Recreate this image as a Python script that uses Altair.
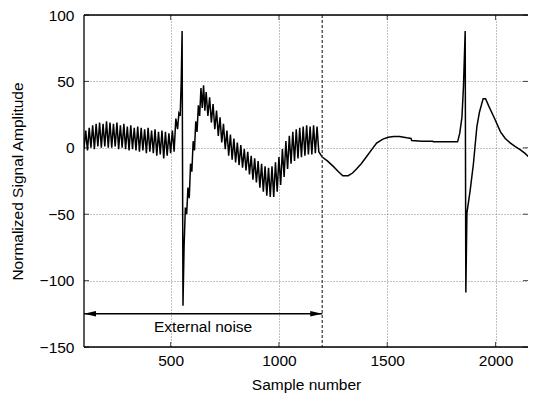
import altair as alt
import pandas as pd

# ---------------- data ----------------
# Segment A (noisy, before first spike): troughs at 100,116,...; peaks at 108,124,...
segA_start, segA_step = 100, 8
segA_troughs = [-1, -2, 0, -1, 1, 0, 1, 0, 0, 1, -1, 0, -1, -2, -1, -2, -3, -2, -4, -3, -4, -6, -5, -8, -6, -4, -3]
segA_peaks = [13, 15, 17, 18, 19, 18, 20, 19, 18, 19, 17, 18, 16, 17, 15, 16, 15, 14, 15, 13, 14, 12, 13, 12, 11, 13, 22]

# Around the first spike
trans_x = [532, 538, 544, 549, 553, 557, 562, 568, 574, 580, 586, 592, 598, 604, 610, 616, 622, 628, 634, 640, 646, 652, 658]
trans_y = [14, 26, 24, 50, 88, -119, -75, -45, -50, -30, -38, -12, -18, 5, -2, 20, 12, 32, 24, 45, 30, 47, 28]

# Segment B (noisy, after spike): peaks at 664,680,...; troughs at 672,688,...
segB_start, segB_step = 664, 8
segB_peaks = [42, 38, 33, 28, 23, 18, 13, 10, 7, 4, 2, -1, -3, -6, -8, -10, -12, -14, -15, -14, -11, -7, -1, 5, 9, 12, 14, 15, 16, 17, 16, 17, 16]
segB_troughs = [24, 19, 14, 9, 4, -1, -6, -9, -11, -13, -15, -17, -20, -24, -26, -30, -33, -36, -37, -37, -33, -28, -22, -16, -12, -10, -8, -7, -6, -5, -5, -4, -3]

# Clean segment after the noise window
clean_x = [1200, 1225, 1251, 1275, 1295, 1320, 1340, 1358, 1380, 1405, 1430, 1451, 1480, 1505, 1530, 1557, 1590, 1610,
           1613, 1660, 1710, 1713, 1770, 1825, 1835, 1845, 1852, 1860, 1863, 1868, 1883, 1898, 1914, 1926, 1943, 1954,
           1970, 1993, 2023, 2045, 2069, 2090, 2115, 2135, 2154, 2175, 2192, 2200]
clean_y = [-7, -10, -14, -18, -21, -21, -19, -16, -12, -6.5, -1, 3.5, 6.5, 8, 8.5, 8.5, 7.5, 7,
           5.5, 5, 5, 4.5, 4.5, 4.5, 11, 23, 46, 88, -109, -49, -32, -12, 16, 27, 37, 37,
           31, 23, 12, 7, 3.5, 1, -1.5, -4, -7, -11, -16, -19]

x_ticks = [500, 1000, 1500, 2000]
y_ticks = [-150, -100, -50, 0, 50, 100]
noise_end = 1200
arrow_start, arrow_end, arrow_y = 100, 1200, -125
label_text = "External noise"
label_x, label_y = 650, -135

# ---------------- assemble ----------------
xs, ys = [], []
for i, (t, p) in enumerate(zip(segA_troughs, segA_peaks)):
    xs += [segA_start + 2 * i * segA_step, segA_start + (2 * i + 1) * segA_step]
    ys += [t, p]
xs += trans_x
ys += trans_y
for i, (p, t) in enumerate(zip(segB_peaks, segB_troughs)):
    xs += [segB_start + 2 * i * segB_step, segB_start + (2 * i + 1) * segB_step]
    ys += [p, t]
xs += clean_x
ys += clean_y
sig = pd.DataFrame({"x": xs, "y": ys})

W, H = 444, 332
FONT = "Liberation Sans"
FS = 15.5
xscale = alt.Scale(domain=[100, 2150], nice=False, zero=False)
yscale = alt.Scale(domain=[-150, 100], nice=False, zero=False)
xaxis = alt.Axis(values=x_ticks, format="d", grid=True, ticks=False, domain=False, labelPadding=6, titlePadding=9)
yaxis = alt.Axis(values=y_ticks, format="d", grid=True, ticks=False, domain=False, labelPadding=10, titlePadding=14)


def X():
    return alt.X("x:Q", scale=xscale, title="Sample number", axis=xaxis)


def Y():
    return alt.Y("y:Q", scale=yscale, title="Normalized Signal Amplitude", axis=yaxis)


line = alt.Chart(sig).mark_line(color="black", strokeWidth=1.5, clip=True).encode(x=X(), y=Y())

vline = alt.Chart(pd.DataFrame({"x": [noise_end]})).mark_rule(
    color="#444", strokeDash=[3, 2], strokeWidth=1.3).encode(x=X())

arrow = alt.Chart(pd.DataFrame({"x": [arrow_start], "x2": [arrow_end], "y": [arrow_y]})).mark_rule(
    color="black", strokeWidth=1.5).encode(x=X(), x2="x2:Q", y=Y())

head_l = alt.Chart(pd.DataFrame({"x": [arrow_start], "y": [arrow_y]})).mark_point(
    shape="M0,0 L2,-0.45 L2,0.45 Z", size=144, filled=True, color="black", opacity=1).encode(x=X(), y=Y())
head_r = alt.Chart(pd.DataFrame({"x": [arrow_end], "y": [arrow_y]})).mark_point(
    shape="M0,0 L-2,-0.45 L-2,0.45 Z", size=144, filled=True, color="black", opacity=1).encode(x=X(), y=Y())

label = alt.Chart(pd.DataFrame({"x": [label_x], "y": [label_y], "t": [label_text]})).mark_text(
    font=FONT, fontSize=FS, color="black", align="center", baseline="middle").encode(
    x=X(), y=Y(), text="t:N")

xt = pd.DataFrame({"x": x_ticks})
yt = pd.DataFrame({"y": y_ticks})
tick_b = alt.Chart(xt).mark_tick(orient="vertical", size=5, thickness=1, color="black").encode(
    x=X(), y=alt.value(H - 2.5))
tick_t = alt.Chart(xt).mark_tick(orient="vertical", size=5, thickness=1, color="black").encode(
    x=X(), y=alt.value(2.5))
tick_l = alt.Chart(yt).mark_tick(orient="horizontal", size=5, thickness=1, color="black").encode(
    y=Y(), x=alt.value(2.5))
tick_r = alt.Chart(yt).mark_tick(orient="horizontal", size=5, thickness=1, color="black").encode(
    y=Y(), x=alt.value(W - 2.5))

# frame: left, top and bottom sides (the right side lies beyond the visible page)
frame_df = pd.DataFrame({"k": [0]})
frame_left = alt.Chart(frame_df).mark_rule(color="black", strokeWidth=1.3).encode(
    x=alt.value(0), y=alt.value(0), y2=alt.value(H))
frame_top = alt.Chart(frame_df).mark_rule(color="black", strokeWidth=1.3).encode(
    x=alt.value(0), x2=alt.value(W), y=alt.value(0))
frame_bottom = alt.Chart(frame_df).mark_rule(color="black", strokeWidth=1.3).encode(
    x=alt.value(0), x2=alt.value(W), y=alt.value(H))

chart = alt.layer(line, vline, arrow, head_l, head_r, label, tick_b, tick_t, tick_l, tick_r,
                  frame_left, frame_top, frame_bottom).properties(
    width=W, height=H,
    autosize=alt.AutoSizeParams(type="none"),
    padding={"left": 76, "top": 7, "right": 0, "bottom": 50},
).configure_view(stroke="transparent").configure_axis(
    labelFont=FONT, labelFontSize=FS, labelColor="black",
    titleFont=FONT, titleFontSize=FS, titleColor="black", titleFontWeight="normal",
    gridColor="#666", gridDash=[1, 2], gridWidth=0.8, gridOpacity=1,
)

chart.save("out.html", embed_options={"renderer": "svg", "actions": False})
